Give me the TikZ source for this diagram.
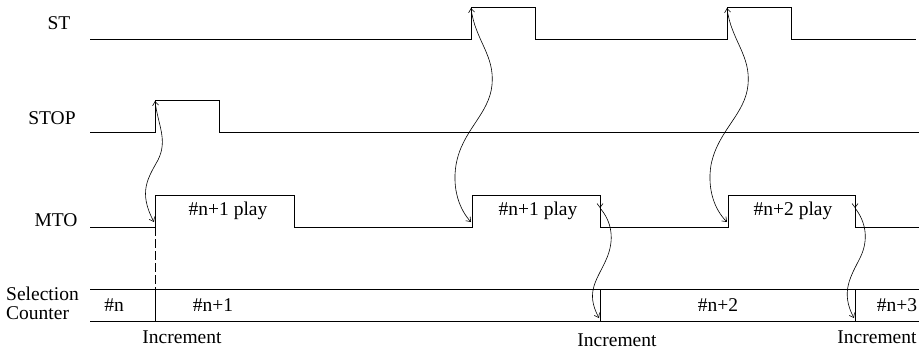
\documentclass[tikz,border=0pt]{standalone}
\usepackage{fontspec}
\setmainfont{Liberation Serif}
\usetikzlibrary{arrows.meta,positioning}
\tikzset{
  sig/.style={line width=0.9pt},
  barb/.tip={Straight Barb[length=4pt,width=6pt]},
  link/.style={line width=0.6pt,barb-barb},
  hop/.style={line width=0.6pt,-barb},
  lbl/.style={font=\fontsize{19.5}{19}\selectfont,inner sep=0pt,anchor=base}
}

\begin{document}
\begin{tikzpicture}[x=1pt,y=-1pt]
        \useasboundingbox (0,0) rectangle (919,351);
        % signal names
        \node[lbl] (st) at (59,29) {ST};
        \node[lbl] (stop) at (52,124) {STOP};
        \node[lbl] (mto) at (56,226) {MTO};
        \node[lbl,anchor=west,align=left] (sel) at (6,303) {Selection\\Counter};
        % traces
        \draw[sig] (90,39) -- (471,39) -- (471,7) -- (535,7) -- (535,39) -- (727,39) -- (727,7) -- (791,7) -- (791,39) -- (916,39);
        \draw[sig] (90,132) -- (155,132) -- (155,100) -- (219,100) -- (219,132) -- (919,132);
        \draw[sig] (90,227) -- (155,227) -- (155,195) -- (294,195) -- (294,227) -- (472,227) -- (472,195) -- (600,195)
          -- (600,227) -- (728,227) -- (728,195) -- (855,195) -- (855,227) -- (919,227);
        \draw[sig] (90,289) -- (919,289) (90,321) -- (919,321);
        \foreach \x in {155,600,855} \draw[sig] (\x,289) -- (\x,321);
        \draw[line width=0.6pt,dash pattern=on 9pt off 3pt] (155,227) -- (155,289);
        % texts in the traces
        \node[lbl] (play1) at (228,215) {\#n+1 play};
        \node[lbl] (play2) at (538,215) {\#n+1 play};
        \node[lbl] (play3) at (793,215) {\#n+2 play};
        \node[lbl] (c0) at (114,311) {\#n};
        \node[lbl] (c1) at (213,311) {\#n+1};
        \node[lbl] (c2) at (718,311) {\#n+2};
        \node[lbl] (c3) at (897,311) {\#n+3};
        \node[lbl] (inc1) at (182,343) {Increment};
        \node[lbl] (inc2) at (617,346) {Increment};
        \node[lbl] (inc3) at (877,343) {Increment};
        % edge points
        \coordinate (stopUp) at (155,101);
        \coordinate (stUp1) at (471,8);
        \coordinate (stUp2) at (727,8);
        \coordinate (mtoUp1) at (154,222);
        \coordinate (mtoUp2) at (471,222);
        \coordinate (mtoUp3) at (727,222);
        \coordinate (mtoDn1) at (600,208);
        \coordinate (mtoDn2) at (855,208);
        \coordinate (cntUp1) at (599,318);
        \coordinate (cntUp2) at (854,318);
        % causes
        \draw[link] (stopUp) .. controls (158,125) and (168,140) .. (158,160) .. controls (148,178) and (138,192) .. (mtoUp1);
        \draw[link] (stUp1) .. controls (475,40) and (495,55) .. (492,85) .. controls (489,115) and (462,130) .. (456,165)
          .. controls (452,190) and (460,210) .. (mtoUp2);
        \draw[link] (stUp2) .. controls (731,40) and (751,55) .. (748,85) .. controls (745,115) and (718,130) .. (711,165)
          .. controls (707,190) and (715,210) .. (mtoUp3);
        \draw[hop] (600,196) -- (mtoDn1);
        \draw[hop] (855,196) -- (mtoDn2);
        \draw[hop] (mtoDn1) .. controls (612,222) and (615,240) .. (606,260) .. controls (597,280) and (585,292) .. (cntUp1);
        \draw[hop] (mtoDn2) .. controls (866,222) and (869,240) .. (860,258) .. controls (851,276) and (840,292) .. (cntUp2);
\end{tikzpicture}
\end{document}
